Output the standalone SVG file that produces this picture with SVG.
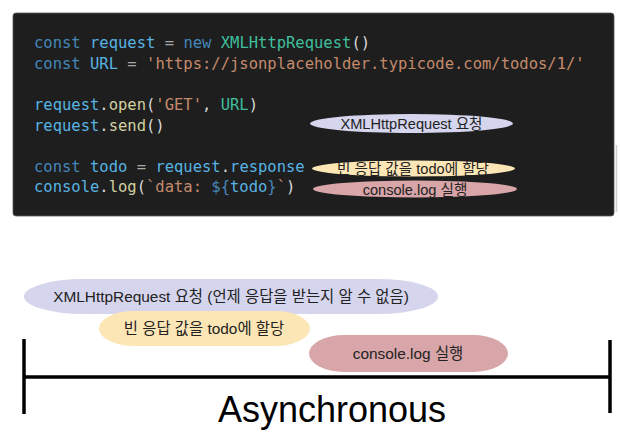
<svg xmlns="http://www.w3.org/2000/svg" width="620" height="438" viewBox="0 0 620 438">
<style>
.code{font-family:"DejaVu Sans Mono","Liberation Mono",monospace;font-size:15.5px;white-space:pre}
.kw{fill:#4587b9}.v{fill:#57b3e3}.op{fill:#a8a8a8}.cls{fill:#3fbf9c}.p{fill:#d8d8d8}.s{fill:#c48a6c}.fn{fill:#d2d0a0}
.lbl{font-family:"Liberation Sans","Noto Sans CJK KR",sans-serif;fill:#222;text-anchor:middle}
.lav{fill:#d5d5ee}.yel{fill:#fde6b5}.pink{fill:#d8a5a8}
.tl{stroke:#000;stroke-width:3.5;fill:none}
</style>
<rect width="620" height="438" fill="#ffffff"/>
<g id="code-box">
<rect x="13" y="13" width="601" height="203" rx="3" fill="#1e1e1e" stroke="#555" stroke-width="0.8"/>
<line x1="616.5" y1="145" x2="616.5" y2="212" stroke="#cfcfcf" stroke-width="1.5"/>
<text class="code" x="34" y="48"><tspan class="kw">const</tspan> <tspan class="v">request</tspan> <tspan class="op">=</tspan> <tspan class="kw">new</tspan> <tspan class="cls">XMLHttpRequest</tspan><tspan class="p">()</tspan></text>
<text class="code" x="34" y="69"><tspan class="kw">const</tspan> <tspan class="v">URL</tspan> <tspan class="op">=</tspan> <tspan class="s">'https://jsonplaceholder.typicode.com/todos/1/'</tspan></text>
<text class="code" x="34" y="110"><tspan class="v">request</tspan><tspan class="p">.</tspan><tspan class="fn">open</tspan><tspan class="p">(</tspan><tspan class="s">'GET'</tspan><tspan class="p">, </tspan><tspan class="cls">URL</tspan><tspan class="p">)</tspan></text>
<text class="code" x="34" y="130.5"><tspan class="v">request</tspan><tspan class="p">.</tspan><tspan class="fn">send</tspan><tspan class="p">()</tspan></text>
<text class="code" x="34" y="171.5"><tspan class="kw">const</tspan> <tspan class="v">todo</tspan> <tspan class="op">=</tspan> <tspan class="v">request</tspan><tspan class="p">.</tspan><tspan class="v">response</tspan></text>
<text class="code" x="34" y="192"><tspan class="v">console</tspan><tspan class="p">.</tspan><tspan class="fn">log</tspan><tspan class="p">(</tspan><tspan class="s">`data: </tspan><tspan class="kw">${</tspan><tspan class="v">todo</tspan><tspan class="kw">}</tspan><tspan class="s">`</tspan><tspan class="p">)</tspan></text>
</g>
<g id="tag-request">
<ellipse class="lav" cx="411.5" cy="123.5" rx="101.5" ry="9.5"/>
<text class="lbl" x="411.5" y="129" font-size="14.6">XMLHttpRequest 요청</text>
</g>
<g id="tag-assign">
<ellipse class="yel" cx="413.5" cy="168.5" rx="101.5" ry="8"/>
<text class="lbl" x="413" y="174" font-size="14.6">빈 응답 값을 todo에 할당</text>
</g>
<g id="tag-log">
<ellipse class="pink" cx="415" cy="189" rx="102" ry="8.5"/>
<text class="lbl" x="415" y="194.5" font-size="14.6">console.log 실행</text>
</g>
<g id="timeline">
<line class="tl" x1="24" y1="339" x2="24" y2="414"/>
<line class="tl" x1="610" y1="340" x2="610" y2="413"/>
<line class="tl" x1="24" y1="377" x2="610" y2="377"/>
<text x="332" y="422" font-family="Liberation Sans, Arial, sans-serif" font-size="36" text-anchor="middle" fill="#000">Asynchronous</text>
</g>
<g id="bar-request">
<rect class="lav" x="24" y="279" width="414" height="35" rx="60" ry="17.5"/>
<text class="lbl" x="231" y="302" font-size="15.4">XMLHttpRequest 요청 (언제 응답을 받는지 알 수 없음)</text>
</g>
<g id="bar-assign">
<rect class="yel" x="99" y="311" width="211" height="35" rx="35" ry="17.5"/>
<text class="lbl" x="204" y="334" font-size="15.4">빈 응답 값을 todo에 할당</text>
</g>
<g id="bar-log">
<rect class="pink" x="309" y="335" width="199" height="37" rx="35" ry="18.5"/>
<text class="lbl" x="408" y="359" font-size="15.4">console.log 실행</text>
</g>
</svg>
